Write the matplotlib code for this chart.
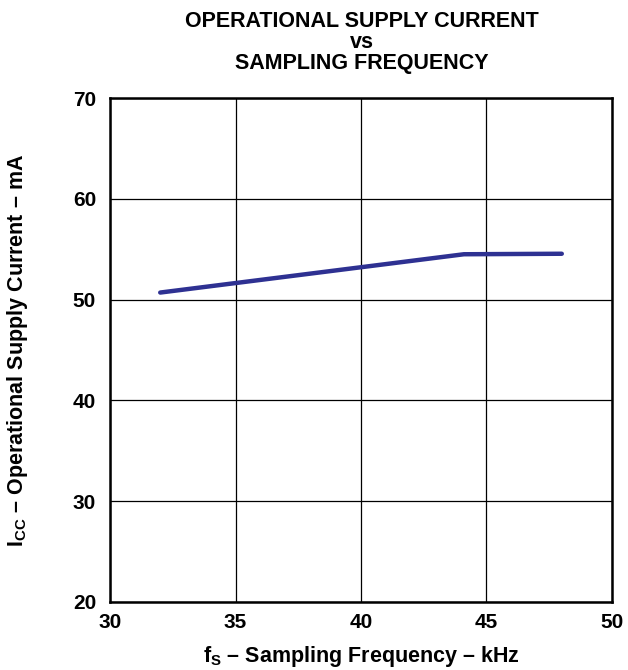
import matplotlib
matplotlib.use('Agg')
import matplotlib.pyplot as plt
from matplotlib import font_manager

# drop the Narrow variant so "Liberation Sans" bold resolves to the normal width face
font_manager.fontManager.ttflist = [f for f in font_manager.fontManager.ttflist
                                    if 'Narrow' not in f.name and 'Narrow' not in f.fname]

# data
freq_khz = [32.0, 44.1, 48.0]
icc_ma = [50.7, 54.5, 54.55]

x_ticks = [30, 35, 40, 45, 50]
y_ticks = [20, 30, 40, 50, 60, 70]

plt.rcParams['font.family'] = ['Liberation Sans', 'DejaVu Sans']
plt.rcParams['font.weight'] = 'bold'
plt.rcParams['mathtext.fontset'] = 'custom'
plt.rcParams['mathtext.rm'] = 'Liberation Sans:bold'
plt.rcParams['mathtext.it'] = 'Liberation Sans:bold'
plt.rcParams['mathtext.bf'] = 'Liberation Sans:bold'

dpi = 100
fig = plt.figure(figsize=(628 / dpi, 670 / dpi), dpi=dpi)
ax = fig.add_axes([0.1752, 0.1015, 0.7993, 0.7522])

ax.plot(freq_khz, icc_ma, color='#2E3192', linewidth=3.2, solid_capstyle='round', zorder=3)

ax.set_xlim(30, 50)
ax.set_ylim(20, 70)
ax.set_xticks(x_ticks)
ax.set_yticks(y_ticks)
ax.tick_params(axis='x', length=0, labelsize=15, pad=8)
ax.tick_params(axis='y', length=0, labelsize=15, pad=10)
for lbl in ax.get_xticklabels() + ax.get_yticklabels():
    lbl.set_fontweight('bold')
ax.grid(True, color='black', linewidth=0.9)
for s in ax.spines.values():
    s.set_linewidth(1.8)

ax.set_xlabel(r'f$_\mathrm{S}$ – Sampling Frequency – kHz', fontsize=15.5, fontweight='bold')
ax.set_ylabel(r'I$_\mathrm{CC}$ – Operational Supply Current – mA', fontsize=15.5, fontweight='bold')
ax.xaxis.set_label_coords(0.5, -0.083)
ax.yaxis.set_label_coords(-0.159, 0.5)

fig.text(0.5765, 0.984, 'OPERATIONAL SUPPLY CURRENT\nvs\nSAMPLING FREQUENCY',
         ha='center', va='top', fontsize=15.5, fontweight='bold', linespacing=1.02)

fig.savefig('out.png', dpi=dpi, facecolor='white')
